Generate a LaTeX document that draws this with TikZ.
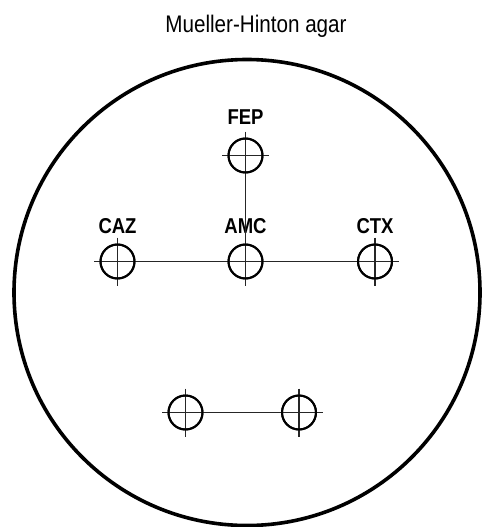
\documentclass[tikz,border=0pt]{standalone}
\usepackage{fontspec}
\setmainfont{Liberation Sans}
\newfontfamily\condsans[FakeStretch=0.86]{Liberation Sans}
\begin{document}
\begin{tikzpicture}[x=1pt,y=-1pt,
  plate/.style={line width=3.6pt},
  disk/.style={circle,draw,line width=2pt,minimum size=34pt,inner sep=0pt},
  hair/.style={line width=1.1pt,draw=black!85},
  agent/.style={font=\condsans\bfseries\fontsize{21.5}{21.5}\selectfont,anchor=base,inner sep=0pt},
  title/.style={font=\condsans\fontsize{24}{24}\selectfont,anchor=base,inner sep=0pt}]
  \useasboundingbox (0,0) rectangle (485,527);

  % agar plate
  \node[title] (ttl) at (256,33) {Mueller-Hinton agar};
  \draw[plate] (247,292.5) circle[radius=233];

  % antibiotic disks
  \node[disk] (fep) at (245.5,155.5) {};
  \node[disk] (caz) at (117.5,261.5) {};
  \node[disk] (amc) at (245.5,261.5) {};
  \node[disk] (ctx) at (375,261.5) {};
  \node[disk] (d1)  at (185.5,412.5) {};
  \node[disk] (d2)  at (299,412.5) {};

  % disk labels
  \node[agent] (lfep) at (245.5,124.5) {FEP};
  \node[agent] (lcaz) at (117.5,233) {CAZ};
  \node[agent] (lamc) at (245.5,233) {AMC};
  \node[agent] (lctx) at (375,233) {CTX};

  % crosshairs through each disk centre
  \foreach \d in {fep,caz,amc,ctx,d1,d2}{
    \draw[hair] ([xshift=-23.5pt]\d.center) -- ([xshift=23.5pt]\d.center);
    \draw[hair] ([yshift=24pt]\d.center) -- ([yshift=-24pt]\d.center);
  }

  % connectors between disk centres
  \draw[hair] (fep.center) -- (amc.center);
  \draw[hair] (caz.center) -- (amc.center) -- (ctx.center);
  \draw[hair] (d1.center) -- (d2.center);

  % redraw disk outlines over the lines
  \foreach \d in {fep,caz,amc,ctx,d1,d2}{
    \draw[line width=2pt] (\d.center) circle[radius=17pt];
  }
\end{tikzpicture}
\end{document}
